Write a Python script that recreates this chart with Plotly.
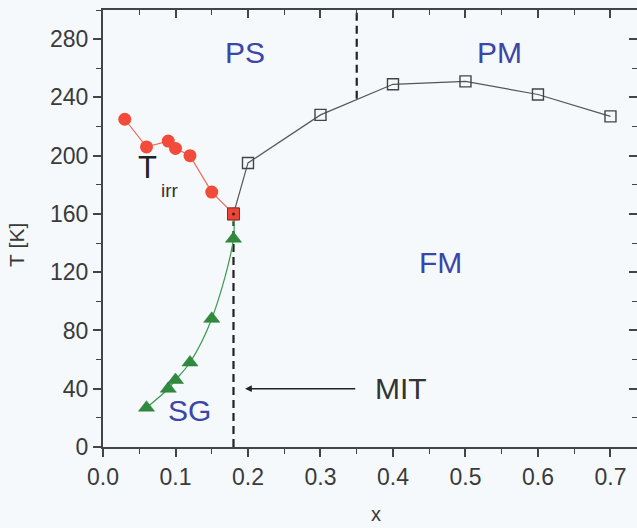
import plotly.graph_objects as go

# Irreversibility temperature T_irr (red circles)
tirr_x = [0.03, 0.06, 0.09, 0.10, 0.12, 0.15, 0.18]
tirr_T = [225, 206, 210, 205, 200, 175, 160]

# Curie / ordering temperature (open squares)
tc_x = [0.18, 0.20, 0.30, 0.40, 0.50, 0.60, 0.70]
tc_T = [160, 195, 228, 249, 251, 242, 227]

# Spin-glass freezing temperature (green triangles)
sg_x = [0.06, 0.09, 0.10, 0.12, 0.15, 0.18]
sg_T = [27, 40, 46, 58, 88, 143]

# Multicritical point
mc_x = [0.18]
mc_T = [160]

# Phase boundaries (dashed)
mit_line_x = [0.18, 0.18]
mit_line_T = [0, 155]
ps_line_x = [0.35, 0.35]
ps_line_T = [239, 300]

x_range = [0, 0.7366]
T_range = [0, 300]

FONT = "Liberation Sans, Arial, sans-serif"
TXT = "#3a3a3a"
BLUE = "#3c45a8"
AX = "#444444"

fig = go.Figure()

fig.add_trace(go.Scatter(x=mit_line_x, y=mit_line_T, mode="lines",
                         line=dict(color="#222222", width=2.2, dash="8px,5px"),
                         hoverinfo="skip"))
fig.add_trace(go.Scatter(x=ps_line_x, y=ps_line_T, mode="lines",
                         line=dict(color="#222222", width=2.2, dash="8px,5px"),
                         hoverinfo="skip"))

fig.add_trace(go.Scatter(x=sg_x + mc_x, y=sg_T + mc_T, mode="lines",
                         line=dict(color="#3d9a4c", width=1.2, shape="spline"),
                         hoverinfo="skip"))
fig.add_trace(go.Scatter(x=sg_x, y=sg_T, mode="markers",
                         marker=dict(symbol="triangle-up", size=14, color="#2f8a3e",
                                     line=dict(color="#2a7a36", width=0.5))))

fig.add_trace(go.Scatter(x=tc_x, y=tc_T, mode="lines+markers",
                         line=dict(color="#555555", width=1.2),
                         marker=dict(symbol="square-open", size=11, color="#444444",
                                     line=dict(width=1.4))))

fig.add_trace(go.Scatter(x=tirr_x, y=tirr_T, mode="lines+markers",
                         line=dict(color="#ee6a5a", width=1.2),
                         marker=dict(symbol="circle", size=13, color="#f24b3a",
                                     line=dict(width=0))))

fig.add_trace(go.Scatter(x=mc_x, y=mc_T, mode="markers",
                         marker=dict(symbol="square", size=12, color="#ee4636",
                                     line=dict(color="#8a2a20", width=1))))
fig.add_trace(go.Scatter(x=mc_x, y=mc_T, mode="markers",
                         marker=dict(symbol="circle", size=3, color="#4a1a14")))

def label(x, y, text, size=30, color=BLUE):
    fig.add_annotation(x=x, y=y, xref="x", yref="y", text=text, showarrow=False,
                       xanchor="center", yanchor="middle",
                       font=dict(family=FONT, size=size, color=color))

label(0.196, 271, "PS")
label(0.547, 271, "PM")
label(0.466, 127, "FM")
label(0.12, 25, "SG")
label(0.411, 40, "MIT", color="#333333")
label(0.062, 192, "T", size=31, color="#222222")
label(0.093, 176, "irr", size=19, color="#333333")

# MIT arrow
fig.add_annotation(x=0.196, y=40, ax=0.35, ay=40, xref="x", yref="y",
                   axref="x", ayref="y", text="", showarrow=True,
                   arrowhead=2, arrowsize=0.9, arrowwidth=1.5, arrowcolor="#222222")

# Axis titles
fig.add_annotation(x=-0.163, y=0.462, xref="paper", yref="paper",
                   text="T&nbsp;[K]", textangle=-90, showarrow=False,
                   xanchor="center", yanchor="middle",
                   font=dict(family=FONT, size=21, color=TXT))
fig.add_annotation(x=0.512, y=-0.1533, xref="paper", yref="paper", text="x",
                   showarrow=False, xanchor="center", yanchor="middle",
                   font=dict(family=FONT, size=20, color=TXT))

axis_common = dict(showgrid=False, zeroline=False, showline=True, linecolor=AX,
                   linewidth=2, tickcolor=AX, tickwidth=1.6)

fig.update_layout(
    width=637, height=528,
    margin=dict(l=103, r=0, t=10, b=81),
    paper_bgcolor="#f5f9fb", plot_bgcolor="#f5f9fb",
    showlegend=False,
    font=dict(family=FONT, color=TXT),
    xaxis=dict(range=x_range, tick0=0, dtick=0.1, tickformat=".1f",
               ticks="outside", ticklen=8,
               minor=dict(dtick=0.05, ticks="outside", ticklen=5,
                          tickcolor=AX, tickwidth=1.4),
               tickfont=dict(family=FONT, size=23, color=TXT), **axis_common),
    yaxis=dict(range=T_range, tick0=0, dtick=40,
               ticks="outside", ticklen=8,
               minor=dict(dtick=20, ticks="outside", ticklen=5,
                          tickcolor=AX, tickwidth=1.4),
               tickfont=dict(family=FONT, size=23, color=TXT), **axis_common),
    xaxis2=dict(range=x_range, overlaying="x", side="top", tick0=0, dtick=0.1,
                ticks="inside", ticklen=8, showticklabels=False,
                minor=dict(dtick=0.05, ticks="inside", ticklen=5,
                           tickcolor=AX, tickwidth=1.4), **axis_common),
    yaxis2=dict(range=T_range, overlaying="y", side="right", tick0=0, dtick=40,
                ticks="inside", ticklen=8, showticklabels=False,
                minor=dict(dtick=20, ticks="inside", ticklen=5,
                           tickcolor=AX, tickwidth=1.4), **axis_common),
)

# invisible trace to activate the mirrored axes
fig.add_trace(go.Scatter(x=[0], y=[0], xaxis="x2", yaxis="y2", mode="markers",
                         marker=dict(opacity=0), hoverinfo="skip"))

fig.write_html("out.html")
